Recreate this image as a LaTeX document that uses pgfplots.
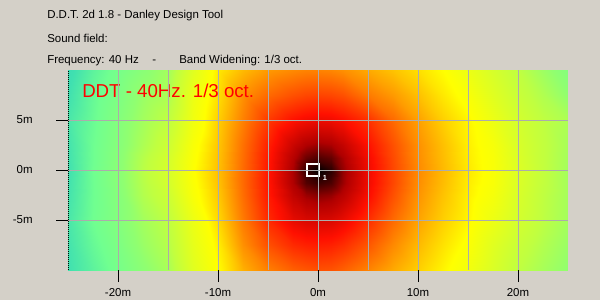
\documentclass[border=0pt]{standalone}
\usepackage{fontspec}
\setmainfont{Liberation Sans}
\usepackage{pgfplots}
\pgfplotsset{compat=1.18}
\definecolor{bg}{RGB}{212,208,200}
\definecolor{gridc}{RGB}{172,172,172}
\begin{document}
\begin{tikzpicture}
\fill[bg] (0,0) rectangle (450pt,-225pt);
\useasboundingbox (0,0) rectangle (450pt,-225pt);
\node[anchor=base west, inner sep=0, font=\fontsize{8.6}{10}\selectfont] at (35.25pt,-14pt) {D.D.T. 2d 1.8 - Danley Design Tool};
\node[anchor=base west, inner sep=0, font=\fontsize{8.6}{10}\selectfont] at (35.25pt,-31.7pt) {Sound field:};
\node[anchor=base west, inner sep=0, font=\fontsize{8.6}{10}\selectfont] at (35.25pt,-47.5pt) {Frequency: 40 Hz};
\node[anchor=base west, inner sep=0, font=\fontsize{8.6}{10}\selectfont] at (114pt,-47.5pt) {-};
\node[anchor=base west, inner sep=0, font=\fontsize{8.6}{10}\selectfont] at (134.25pt,-47.5pt) {Band Widening: 1/3 oct.};
\begin{axis}[at={(51pt,-202.5pt)}, anchor=south west, scale only axis,
  width=375pt, height=150pt,
  xmin=-25, xmax=25, ymin=-10, ymax=10, clip=false,
  axis on top, axis line style={draw=none},
  xtick={-20,-10,0,10,20}, xticklabels={-20m,-10m,0m,10m,20m},
  minor xtick={-15,-5,5,15},
  ytick={-5,0,5}, yticklabels={-5m,0m,5m},
  xtick pos=bottom, ytick pos=left, tick align=outside,
  major tick length=9pt, minor tick length=0pt,
  grid=both, major grid style={gridc, line width=0.75pt}, minor grid style={gridc, line width=0.75pt},
  tick style={black, line width=0.75pt},
  ticklabel style={font=\fontsize{8.6}{10}\selectfont},
  yticklabel style={xshift=-14pt},
  xticklabel style={yshift=-1pt},
  colormap={ddt}{rgb255=(0,0,0) rgb255=(176,0,0) rgb255=(255,16,0) rgb255=(255,96,0) rgb255=(255,176,0) rgb255=(255,255,0) rgb255=(224,255,32) rgb255=(192,255,64) rgb255=(144,255,112) rgb255=(112,255,144) rgb255=(64,224,176) rgb255=(48,208,190)},
  point meta min=0, point meta max=27.5,
]
\addplot[surf, shader=interp, mesh/cols=23, point meta=explicit] table[row sep=\\, meta=d] {
x y d\\
-25 -10 25\\ -22.5 -10 23.5\\ -20 -10 22\\ -17.5 -10 20.3\\ -15 -10 18.7\\ -12.5 -10 15\\ -10 -10 12.5\\ -7.5 -10 10\\ -5 -10 8.5\\ -2.5 -10 7.5\\ -1.25 -10 7.2\\ 0 -10 7\\ 1.25 -10 7.1\\ 2.5 -10 7.5\\ 5 -10 8.6\\ 7.5 -10 9.8\\ 10 -10 11\\ 12.5 -10 12.2\\ 15 -10 13.5\\ 17.5 -10 15.5\\ 20 -10 17.5\\ 22.5 -10 18.8\\ 25 -10 20\\
-25 -7.5 24.8\\ -22.5 -7.5 23\\ -20 -7.5 21.5\\ -17.5 -7.5 19.5\\ -15 -7.5 18\\ -12.5 -7.5 14.5\\ -10 -7.5 12\\ -7.5 -7.5 9\\ -5 -7.5 7\\ -2.5 -7.5 5.8\\ -1.25 -7.5 5.5\\ 0 -7.5 5.4\\ 1.25 -7.5 5.5\\ 2.5 -7.5 5.9\\ 5 -7.5 7.2\\ 7.5 -7.5 8.8\\ 10 -7.5 10.3\\ 12.5 -7.5 11.6\\ 15 -7.5 12.8\\ 17.5 -7.5 15\\ 20 -7.5 16.8\\ 22.5 -7.5 18.2\\ 25 -7.5 19.5\\
-25 -5 24.5\\ -22.5 -5 22.5\\ -20 -5 21\\ -17.5 -5 19\\ -15 -5 17.5\\ -12.5 -5 14\\ -10 -5 11.3\\ -7.5 -5 8.3\\ -5 -5 5.8\\ -2.5 -5 4.2\\ -1.25 -5 3.8\\ 0 -5 3.7\\ 1.25 -5 3.8\\ 2.5 -5 4.3\\ 5 -5 5.9\\ 7.5 -5 7.8\\ 10 -5 9.6\\ 12.5 -5 11\\ 15 -5 12.2\\ 17.5 -5 14\\ 20 -5 16\\ 22.5 -5 17.6\\ 25 -5 19\\
-25 -2.5 24.8\\ -22.5 -2.5 22.6\\ -20 -2.5 20.8\\ -17.5 -2.5 18.2\\ -15 -2.5 16.5\\ -12.5 -2.5 13\\ -10 -2.5 10.8\\ -7.5 -2.5 7.9\\ -5 -2.5 5.3\\ -2.5 -2.5 3\\ -1.25 -2.5 2.2\\ 0 -2.5 1.9\\ 1.25 -2.5 2.1\\ 2.5 -2.5 2.8\\ 5 -2.5 4.8\\ 7.5 -2.5 7\\ 10 -2.5 9.1\\ 12.5 -2.5 10.6\\ 15 -2.5 12\\ 17.5 -2.5 13.3\\ 20 -2.5 15.6\\ 22.5 -2.5 17.5\\ 25 -2.5 18.9\\
-25 -1.25 24.9\\ -22.5 -1.25 22.6\\ -20 -1.25 20.6\\ -17.5 -1.25 18\\ -15 -1.25 16\\ -12.5 -1.25 12.8\\ -10 -1.25 10.6\\ -7.5 -1.25 7.8\\ -5 -1.25 5.2\\ -2.5 -1.25 2.5\\ -1.25 -1.25 1.2\\ 0 -1.25 0.8\\ 1.25 -1.25 1.1\\ 2.5 -1.25 2.2\\ 5 -1.25 4.5\\ 7.5 -1.25 6.7\\ 10 -1.25 8.9\\ 12.5 -1.25 10.4\\ 15 -1.25 11.9\\ 17.5 -1.25 13\\ 20 -1.25 15.4\\ 22.5 -1.25 17.3\\ 25 -1.25 18.9\\
-25 0 25\\ -22.5 0 22.5\\ -20 0 20.5\\ -17.5 0 17.8\\ -15 0 15.8\\ -12.5 0 12.6\\ -10 0 10.5\\ -7.5 0 7.8\\ -5 0 5.2\\ -2.5 0 2.4\\ -1.25 0 0.7\\ 0 0 0\\ 1.25 0 0.6\\ 2.5 0 2.1\\ 5 0 4.5\\ 7.5 0 6.7\\ 10 0 8.8\\ 12.5 0 10.3\\ 15 0 11.8\\ 17.5 0 13\\ 20 0 15.3\\ 22.5 0 17.3\\ 25 0 19\\
-25 1.25 24.9\\ -22.5 1.25 22.6\\ -20 1.25 20.6\\ -17.5 1.25 18\\ -15 1.25 16\\ -12.5 1.25 12.8\\ -10 1.25 10.6\\ -7.5 1.25 7.9\\ -5 1.25 5.3\\ -2.5 1.25 2.7\\ -1.25 1.25 1.5\\ 0 1.25 1.1\\ 1.25 1.25 1.4\\ 2.5 1.25 2.4\\ 5 1.25 4.6\\ 7.5 1.25 6.8\\ 10 1.25 8.9\\ 12.5 1.25 10.4\\ 15 1.25 11.9\\ 17.5 1.25 13\\ 20 1.25 15.4\\ 22.5 1.25 17.3\\ 25 1.25 18.9\\
-25 2.5 24.8\\ -22.5 2.5 22.6\\ -20 2.5 20.8\\ -17.5 2.5 18.5\\ -15 2.5 16.5\\ -12.5 2.5 13\\ -10 2.5 10.7\\ -7.5 2.5 8\\ -5 2.5 5.5\\ -2.5 2.5 3.3\\ -1.25 2.5 2.5\\ 0 2.5 2.2\\ 1.25 2.5 2.4\\ 2.5 2.5 3.1\\ 5 2.5 5\\ 7.5 2.5 7\\ 10 2.5 9\\ 12.5 2.5 10.5\\ 15 2.5 12\\ 17.5 2.5 13.2\\ 20 2.5 15.6\\ 22.5 2.5 17.3\\ 25 2.5 18.8\\
-25 5 24.5\\ -22.5 5 22.8\\ -20 5 21\\ -17.5 5 19\\ -15 5 17.5\\ -12.5 5 13.7\\ -10 5 11\\ -7.5 5 8.5\\ -5 5 6.3\\ -2.5 5 5\\ -1.25 5 4.6\\ 0 5 4.4\\ 1.25 5 4.5\\ 2.5 5 4.9\\ 5 5 6\\ 7.5 5 7.8\\ 10 5 9.5\\ 12.5 5 11\\ 15 5 12.2\\ 17.5 5 14\\ 20 5 16\\ 22.5 5 17.5\\ 25 5 18.5\\
-25 7.5 25\\ -22.5 7.5 23\\ -20 7.5 21.5\\ -17.5 7.5 19.5\\ -15 7.5 18.5\\ -12.5 7.5 14\\ -10 7.5 11.5\\ -7.5 7.5 9\\ -5 7.5 7.8\\ -2.5 7.5 7\\ -1.25 7.5 6.7\\ 0 7.5 6.6\\ 1.25 7.5 6.7\\ 2.5 7.5 7\\ 5 7.5 8.3\\ 7.5 7.5 9.3\\ 10 7.5 10.5\\ 12.5 7.5 11.8\\ 15 7.5 13\\ 17.5 7.5 15\\ 20 7.5 16.8\\ 22.5 7.5 18.3\\ 25 7.5 20\\
-25 10 25.5\\ -22.5 10 23.5\\ -20 10 22\\ -17.5 10 20.5\\ -15 10 19\\ -12.5 10 15\\ -10 10 11.8\\ -7.5 10 10.3\\ -5 10 9.3\\ -2.5 10 8.8\\ -1.25 10 8.6\\ 0 10 8.6\\ 1.25 10 8.7\\ 2.5 10 9\\ 5 10 9.8\\ 7.5 10 10.6\\ 10 10 11.5\\ 12.5 10 12.5\\ 15 10 14\\ 17.5 10 15.8\\ 20 10 17.5\\ 22.5 10 19.3\\ 25 10 21\\
};
\draw[black, line width=0.75pt, dash pattern=on 0.75pt off 0.75pt] (axis cs:-25,-10) -- (axis cs:-25,10);
\node[anchor=base west, inner sep=0, text=red, font=\fontsize{14}{16}\selectfont] at (axis cs:-23.6,7.3) {DDT - 40Hz. 1/3 oct.};
\draw[white, line width=1.5pt] (axis cs:-1.1,-0.6) rectangle (axis cs:0.1,0.6);
\node[white, inner sep=0, font=\fontsize{5.5}{6}\selectfont\bfseries] at (axis cs:0.7,-0.75) {1};
\end{axis}
\end{tikzpicture}
\end{document}
